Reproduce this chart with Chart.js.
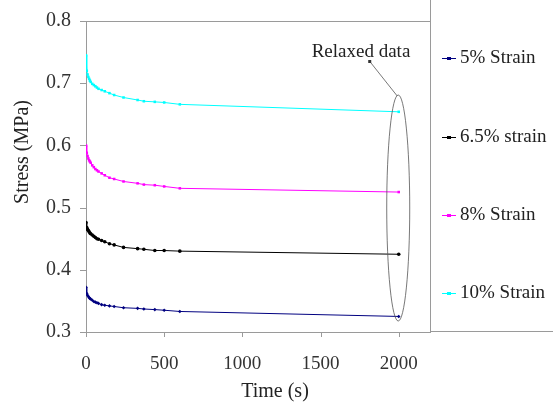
<!DOCTYPE html>
<html>
<head>
<meta charset="utf-8">
<script src="https://cdn.jsdelivr.net/npm/chart.js@4.4.1/dist/chart.umd.min.js"></script>
<style>
  html, body { margin: 0; padding: 0; background: #fff; }
  #wrap { width: 553px; height: 410px; }
</style>
</head>
<body>
<div id="wrap"><canvas id="c" width="553" height="410"></canvas></div>
<script>
// time points (s)
const times = [0, 5, 10, 15, 20, 25, 30, 40, 50, 60, 70, 80, 100, 120, 150, 180, 240, 330, 370, 440, 500, 600, 2000];

// stress (MPa) per strain level
const strain5 = [0.372, 0.362, 0.359, 0.357, 0.355, 0.354, 0.353, 0.351, 0.349, 0.348, 0.347, 0.346, 0.344, 0.343, 0.342, 0.341, 0.339, 0.338, 0.337, 0.336, 0.335, 0.333, 0.325];
const strain65 = [0.476, 0.468, 0.465, 0.463, 0.461, 0.459, 0.458, 0.456, 0.454, 0.452, 0.450, 0.449, 0.447, 0.445, 0.442, 0.440, 0.436, 0.434, 0.433, 0.431, 0.431, 0.430, 0.425];
const strain8 = [0.600, 0.588, 0.583, 0.579, 0.576, 0.574, 0.572, 0.568, 0.565, 0.562, 0.560, 0.558, 0.555, 0.552, 0.548, 0.546, 0.542, 0.539, 0.537, 0.536, 0.534, 0.531, 0.525];
const strain10 = [0.745, 0.720, 0.714, 0.710, 0.707, 0.704, 0.702, 0.699, 0.697, 0.695, 0.693, 0.691, 0.689, 0.687, 0.684, 0.681, 0.677, 0.673, 0.671, 0.670, 0.669, 0.666, 0.654];

const xTicks = [0, 500, 1000, 1500, 2000];
const yTicks = [0.3, 0.4, 0.5, 0.6, 0.7, 0.8];

const seriesNames = ['5% Strain', '6.5% strain', '8% Strain', '10% Strain'];
const seriesColors = ['#000080', '#000000', '#ff00ff', '#00ffff'];
const seriesShapes = ['rectRot', 'circle', 'rect', 'rect'];
const seriesValues = [strain5, strain65, strain8, strain10];

const FONT = '"Liberation Serif", "Times New Roman", serif';
const AXIS = '#9a9a9a';
const toPoints = vals => times.map((t, i) => ({ x: t, y: vals[i] }));

// frame, tick marks, axis titles, legend panel and the "Relaxed data" callout
const decor = {
  id: 'decor',
  afterDraw(chart) {
    const ctx = chart.ctx;
    const a = chart.chartArea;
    const xs = chart.scales.x, ys = chart.scales.y;
    ctx.save();
    ctx.strokeStyle = AXIS;
    ctx.lineWidth = 1;
    ctx.beginPath();
    ctx.moveTo(a.left, a.top + 0.5);
    ctx.lineTo(a.right, a.top + 0.5);
    ctx.moveTo(a.right + 0.5, 0);
    ctx.lineTo(a.right + 0.5, a.bottom);
    ctx.moveTo(a.right, a.bottom - 0.5);
    ctx.lineTo(chart.width, a.bottom - 0.5);
    yTicks.forEach(v => {
      const y = Math.round(ys.getPixelForValue(v)) + 0.5;
      ctx.moveTo(a.left - 6, y);
      ctx.lineTo(a.left, y);
    });
    xTicks.forEach(v => {
      const x = Math.round(xs.getPixelForValue(v)) + 0.5;
      ctx.moveTo(x, a.bottom);
      ctx.lineTo(x, a.bottom + 5);
    });
    ctx.stroke();

    // axis titles
    ctx.fillStyle = '#222';
    ctx.font = '20px ' + FONT;
    ctx.textAlign = 'center';
    ctx.textBaseline = 'middle';
    ctx.fillText('Time (s)', 275, 392);
    ctx.save();
    ctx.translate(23, 152);
    ctx.rotate(-Math.PI / 2);
    ctx.fillText('Stress (MPa)', 0, 0);
    ctx.restore();

    // legend
    const lx = a.right + 12;
    const legendY = [58, 137, 215, 293];
    ctx.font = '19px ' + FONT;
    ctx.textAlign = 'left';
    ctx.textBaseline = 'middle';
    seriesNames.forEach((name, i) => {
      const y = legendY[i];
      ctx.strokeStyle = seriesColors[i];
      ctx.fillStyle = seriesColors[i];
      ctx.beginPath();
      ctx.moveTo(lx, y + 0.5);
      ctx.lineTo(lx + 14, y + 0.5);
      ctx.stroke();
      ctx.fillRect(lx + 5, y - 1, 4, 3);
      ctx.fillStyle = '#222';
      ctx.fillText(name, lx + 18, y);
    });

    // callout ellipse around the 2000 s points
    const cx = xs.getPixelForValue(2000) - 0.5;
    const top = 95, bot = 321;
    ctx.strokeStyle = '#555';
    ctx.lineWidth = 0.8;
    ctx.beginPath();
    ctx.ellipse(cx, (top + bot) / 2, 11.5, (bot - top) / 2, 0, 0, Math.PI * 2);
    ctx.stroke();
    ctx.beginPath();
    ctx.moveTo(cx - 1, top + 1);
    ctx.lineTo(cx - 28, 62);
    ctx.stroke();
    ctx.fillStyle = '#333';
    ctx.fillRect(cx - 30, 60, 3, 3);
    ctx.fillStyle = '#222';
    ctx.font = '19px ' + FONT;
    ctx.textAlign = 'center';
    ctx.textBaseline = 'alphabetic';
    ctx.fillText('Relaxed data', 361, 57);
    ctx.restore();
  }
};

new Chart(document.getElementById('c'), {
  type: 'scatter',
  data: {
    datasets: seriesNames.map((name, i) => ({
      label: name,
      data: toPoints(seriesValues[i]),
      showLine: true,
      borderColor: seriesColors[i],
      backgroundColor: seriesColors[i],
      borderWidth: 1,
      pointStyle: seriesShapes[i],
      pointRadius: 1.8,
      pointBorderWidth: 0,
      tension: 0
    }))
  },
  options: {
    responsive: false,
    animation: false,
    layout: { padding: { left: 0, top: 16, right: 123, bottom: 0 } },
    plugins: {
      legend: { display: false },
      tooltip: { enabled: false }
    },
    scales: {
      x: {
        type: 'linear',
        min: 0,
        max: 2200,
        afterFit: s => { s.height = 78; },
        afterBuildTicks: s => { s.ticks = xTicks.map(v => ({ value: v })); },
        ticks: { autoSkip: false, color: '#333', font: { family: FONT, size: 19 }, maxRotation: 0, padding: 16, callback: v => String(v) },
        grid: { drawOnChartArea: false, tickLength: 5, color: 'rgba(0,0,0,0)' },
        border: { color: AXIS }
      },
      y: {
        min: 0.3,
        max: 0.8,
        afterFit: s => { s.width = 86; },
        afterBuildTicks: s => { s.ticks = yTicks.map(v => ({ value: v })); },
        ticks: { color: '#333', font: { family: FONT, size: 20 }, padding: 9, callback: v => v.toFixed(1) },
        grid: { drawOnChartArea: false, tickLength: 6, color: 'rgba(0,0,0,0)' },
        border: { color: AXIS }
      }
    }
  },
  plugins: [decor]
});
</script>
</body>
</html>
